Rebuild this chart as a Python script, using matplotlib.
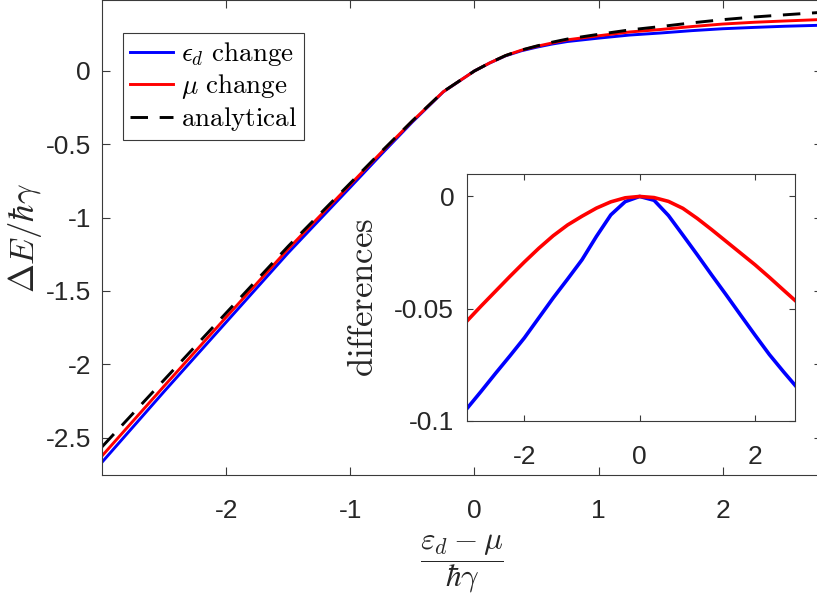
import matplotlib
matplotlib.use('Agg')
from matplotlib import pyplot as plt

# main panel: energy shift vs detuning
x_main = [-3.0, -2.5, -2.0, -1.5, -1.0, -0.75, -0.5, -0.25, 0.0, 0.125,
          0.25, 0.375, 0.5, 0.625, 0.75, 1.0, 1.25, 1.5, 1.75, 2.0, 2.25, 2.5, 2.8]
analytical = [-2.563, -2.107, -1.650, -1.195, -0.765, -0.550, -0.340, -0.140,
              0.0, 0.056, 0.105, 0.142, 0.170, 0.196, 0.218, 0.250, 0.280, 0.303, 0.328,
              0.350, 0.368, 0.383, 0.400]
eps_change = [-2.668, -2.186, -1.713, -1.240, -0.793, -0.568, -0.348, -0.142,
              0.0, 0.0552, 0.103, 0.137, 0.162, 0.1835, 0.201, 0.224, 0.245, 0.259, 0.275,
              0.288, 0.297, 0.305, 0.312]
mu_change = [-2.625, -2.149, -1.679, -1.213, -0.774, -0.555, -0.342, -0.141,
             0.0, 0.0558, 0.1045, 0.1408, 0.168, 0.1907, 0.2127, 0.240, 0.266, 0.283, 0.3028,
             0.320, 0.332, 0.341, 0.351]

# inset: differences to the analytical curve
x_diff = [-3.0, -2.75, -2.5, -2.25, -2.0, -1.75, -1.5, -1.25, -1.0, -0.75, -0.5, -0.25, 0.0,
          0.25, 0.5, 0.75, 1.0, 1.25, 1.5, 1.75, 2.0, 2.25, 2.5, 2.7]
eps_diff = [-0.0946, -0.0868, -0.0788, -0.0710, -0.0630, -0.0541, -0.0452, -0.0368, -0.0282,
            -0.0178, -0.0082, -0.0023, 0.0, -0.0017, -0.0085, -0.0172, -0.0260, -0.0350,
            -0.0438, -0.0528, -0.0617, -0.0704, -0.0782, -0.0842]
mu_diff = [-0.0556, -0.0488, -0.0422, -0.0356, -0.0292, -0.0231, -0.0175, -0.0127, -0.0088,
           -0.0052, -0.0024, -0.0006, 0.0, -0.0005, -0.0022, -0.0053, -0.0098, -0.0148,
           -0.0200, -0.0252, -0.0304, -0.0360, -0.0418, -0.0464]

main_xticks = [-2, -1, 0, 1, 2]
main_yticks = [-2.5, -2, -1.5, -1, -0.5, 0]
inset_xticks = [-2, 0, 2]
inset_yticks = [-0.1, -0.05, 0]

plt.rcParams['mathtext.fontset'] = 'cm'
plt.rcParams['font.family'] = ['Liberation Sans', 'DejaVu Sans']
plt.rcParams['axes.unicode_minus'] = False

spine_col = '#3a3a3a'
text_col = '#262626'

fig = plt.figure(figsize=(8.17, 6.01), dpi=100)
ax = fig.add_axes([102 / 817, 126 / 601, 720 / 817, 475 / 601])

ax.plot(x_main, eps_change, color='blue', lw=2.1, label=r'$\epsilon_d\ \mathrm{change}$')
ax.plot(x_main, mu_change, color='red', lw=2.1, label=r'$\mu\ \mathrm{change}$')
ax.plot(x_main, analytical, color='black', lw=2.1, ls=(0, (6, 4)), label=r'$\mathrm{analytical}$')

ax.set_xlim(-3, 2.8)
ax.set_ylim(-2.755, 0.484)
ax.set_xticks(main_xticks)
ax.set_xticklabels(['%g' % t for t in main_xticks])
ax.set_yticks(main_yticks)
ax.set_yticklabels(['%g' % t for t in main_yticks])
ax.tick_params(direction='in', top=True, right=True, length=6, width=0.8, color=spine_col,
               labelsize=19, labelcolor=text_col)
ax.tick_params(axis='x', pad=17)
ax.tick_params(axis='y', pad=8)
for s in ax.spines.values():
    s.set_color(spine_col)
    s.set_linewidth(0.8)

ax.set_ylabel(r'$\Delta E/\hbar\gamma$', fontsize=25, color=text_col, labelpad=1)
ax.set_xlabel(r'$\dfrac{\varepsilon_d-\mu}{\hbar\gamma}$', fontsize=22.5, color=text_col, labelpad=7)

leg = ax.legend(loc='upper left', bbox_to_anchor=(0.029, 0.93), borderaxespad=0,
                fontsize=19.5, fancybox=False, framealpha=1, edgecolor=spine_col,
                handlelength=1.6, handletextpad=0.3, borderpad=0.25, labelspacing=0.15)
leg.get_frame().set_linewidth(0.8)

ins = fig.add_axes([466.7 / 817, 180 / 601, 328.6 / 817, 247 / 601])
ins.plot(x_diff, eps_diff, color='blue', lw=2.6)
ins.plot(x_diff, mu_diff, color='red', lw=2.6)
ins.set_xlim(-3, 2.7)
ins.set_ylim(-0.1, 0.01)
ins.set_xticks(inset_xticks)
ins.set_xticklabels(['%g' % t for t in inset_xticks])
ins.set_yticks(inset_yticks)
ins.set_yticklabels(['%g' % t for t in inset_yticks])
ins.tick_params(direction='in', top=True, right=True, length=4, width=0.8, color=spine_col,
                labelsize=19, labelcolor=text_col)
ins.tick_params(axis='x', pad=17)
ins.tick_params(axis='y', pad=9)
for s in ins.spines.values():
    s.set_color(spine_col)
    s.set_linewidth(0.8)
ins.set_ylabel(r'$\mathrm{differences}$', fontsize=25, color=text_col, labelpad=10)

fig.savefig('out.png', dpi=100)
